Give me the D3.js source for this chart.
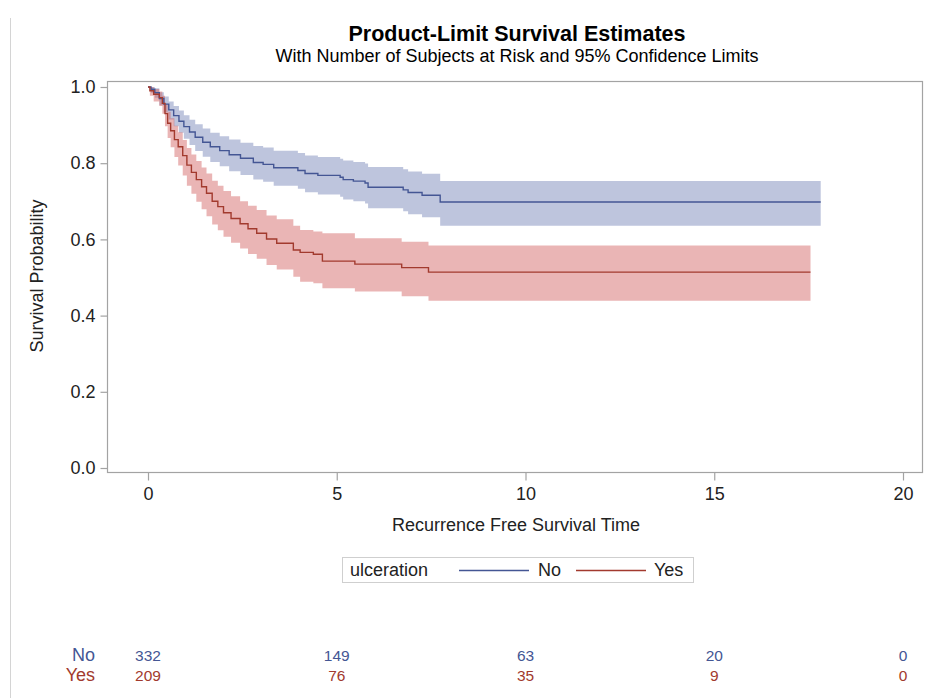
<!DOCTYPE html>
<html>
<head>
<meta charset="utf-8">
<script src="https://cdn.jsdelivr.net/npm/d3@7"></script>
<style>
  html, body { margin: 0; padding: 0; background: #fff; }
  svg { display: block; font-family: "Liberation Sans", Arial, sans-serif; }
</style>
</head>
<body>
<svg id="chart" width="928" height="698"></svg>
<script>
// Kaplan-Meier estimates by ulceration status: step times, survival, 95% limits
const timeNo  = [0, 0.08, 0.18, 0.30, 0.42, 0.55, 0.68, 0.82, 0.95, 1.10, 1.25, 1.45, 1.65, 1.90, 2.15, 2.45, 2.79, 3.05, 3.33, 3.97, 4.16, 4.50, 5.09, 5.17, 5.44, 5.75, 5.83, 6.76, 6.89, 7.26, 7.74, 17.82];
const survNo  = [1.000, 0.994, 0.985, 0.970, 0.955, 0.940, 0.925, 0.910, 0.896, 0.882, 0.868, 0.855, 0.843, 0.833, 0.822, 0.813, 0.802, 0.797, 0.788, 0.781, 0.773, 0.768, 0.763, 0.757, 0.753, 0.748, 0.737, 0.730, 0.723, 0.716, 0.698, 0.698];
const lowerNo = [1.000, 0.985, 0.972, 0.952, 0.933, 0.915, 0.897, 0.880, 0.864, 0.848, 0.832, 0.817, 0.803, 0.792, 0.779, 0.769, 0.757, 0.751, 0.741, 0.733, 0.724, 0.718, 0.712, 0.705, 0.700, 0.694, 0.682, 0.674, 0.666, 0.658, 0.636, 0.636];
const upperNo = [1.000, 1.000, 0.997, 0.986, 0.975, 0.962, 0.950, 0.938, 0.926, 0.914, 0.902, 0.891, 0.880, 0.871, 0.862, 0.854, 0.845, 0.841, 0.833, 0.827, 0.820, 0.816, 0.812, 0.807, 0.803, 0.799, 0.790, 0.784, 0.778, 0.772, 0.753, 0.753];

const timeYes  = [0, 0.05, 0.15, 0.30, 0.38, 0.45, 0.52, 0.60, 0.70, 0.80, 0.92, 1.03, 1.15, 1.28, 1.42, 1.55, 1.70, 1.85, 2.00, 2.20, 2.44, 2.65, 2.88, 3.14, 3.41, 3.85, 4.03, 4.38, 4.62, 5.48, 6.72, 7.43, 17.55];
const survYes  = [1.000, 0.990, 0.981, 0.972, 0.957, 0.930, 0.905, 0.885, 0.862, 0.843, 0.820, 0.795, 0.776, 0.757, 0.738, 0.721, 0.700, 0.686, 0.670, 0.655, 0.641, 0.628, 0.616, 0.601, 0.590, 0.572, 0.566, 0.561, 0.543, 0.535, 0.526, 0.514, 0.514];
const lowerYes = [1.000, 0.977, 0.962, 0.950, 0.930, 0.897, 0.866, 0.842, 0.816, 0.794, 0.768, 0.741, 0.720, 0.699, 0.679, 0.661, 0.639, 0.624, 0.607, 0.591, 0.576, 0.562, 0.549, 0.533, 0.521, 0.502, 0.489, 0.485, 0.472, 0.463, 0.451, 0.439, 0.439];
const upperYes = [1.000, 1.000, 0.995, 0.988, 0.977, 0.955, 0.935, 0.918, 0.898, 0.881, 0.861, 0.840, 0.823, 0.806, 0.789, 0.773, 0.754, 0.741, 0.727, 0.713, 0.700, 0.688, 0.677, 0.663, 0.653, 0.636, 0.625, 0.621, 0.616, 0.603, 0.594, 0.584, 0.584];

// Number of subjects at risk at each tick time
const riskTimes  = [0, 5, 10, 15, 20];
const atRiskNo   = [332, 149, 63, 20, 0];
const atRiskYes  = [209, 76, 35, 9, 0];

const groupNames = ["No", "Yes"];
const xTicks = [0, 5, 10, 15, 20];
const yTicks = [0.0, 0.2, 0.4, 0.6, 0.8, 1.0];

const titleText    = "Product-Limit Survival Estimates";
const subtitleText = "With Number of Subjects at Risk and 95% Confidence Limits";
const xTitle = "Recurrence Free Survival Time";
const yTitle = "Survival Probability";
const legendTitle = "ulceration";

// --- layout / style ---
const frame = { left: 107.5, top: 81.5, right: 922.5, bottom: 472.5 };
const lineColor = { No: "#445694", Yes: "#A23A2E" };
const fillColor = { No: "#6F7EB3", Yes: "#D05B5B" };
const axisGray = "#a3a3a3";
const textColor = "#222";

const svg = d3.select("#chart");

const x = d3.scaleLinear().domain([0, 20]).range([148, 903]);
const y = d3.scaleLinear().domain([0, 1]).range([468, 87]);

// outer left rule of the graph region
svg.append("line")
  .attr("x1", 10.5).attr("x2", 10.5).attr("y1", 18).attr("y2", 698)
  .attr("stroke", "#d4d4d4").attr("stroke-width", 1);

// titles
svg.append("text")
  .attr("x", 517).attr("y", 41)
  .attr("text-anchor", "middle")
  .attr("font-size", 21.5).attr("font-weight", "bold").attr("fill", "#000")
  .text(titleText);
svg.append("text")
  .attr("x", 517).attr("y", 62)
  .attr("text-anchor", "middle")
  .attr("font-size", 18).attr("fill", "#000")
  .text(subtitleText);

// build series records
const series = [
  { name: "No",  t: timeNo,  s: survNo,  lo: lowerNo,  hi: upperNo },
  { name: "Yes", t: timeYes, s: survYes, lo: lowerYes, hi: upperYes }
].map(g => ({
  name: g.name,
  pts: g.t.map((t, i) => ({ t, s: g.s[i], lo: g.lo[i], hi: g.hi[i] }))
}));

const band = d3.area()
  .curve(d3.curveStepAfter)
  .x(d => x(d.t))
  .y0(d => y(d.lo))
  .y1(d => y(d.hi));

const curve = d3.line()
  .curve(d3.curveStepAfter)
  .x(d => x(d.t))
  .y(d => y(d.s));

// confidence bands
svg.append("g").selectAll("path")
  .data(series)
  .join("path")
  .attr("d", d => band(d.pts))
  .attr("fill", d => fillColor[d.name])
  .attr("fill-opacity", 0.45)
  .attr("stroke", "none");

// survival curves
svg.append("g").selectAll("path")
  .data(series)
  .join("path")
  .attr("d", d => curve(d.pts))
  .attr("fill", "none")
  .attr("stroke", d => lineColor[d.name])
  .attr("stroke-width", 1.4);

// plot frame
svg.append("rect")
  .attr("x", frame.left).attr("y", frame.top)
  .attr("width", frame.right - frame.left).attr("height", frame.bottom - frame.top)
  .attr("fill", "none").attr("stroke", axisGray).attr("stroke-width", 1.2);

// y axis
const yAxis = svg.append("g")
  .attr("transform", `translate(${frame.left},0)`)
  .call(d3.axisLeft(y).tickValues(yTicks).tickFormat(d3.format(".1f")).tickSize(7).tickPadding(5));
yAxis.select(".domain").remove();
yAxis.selectAll(".tick line").attr("stroke", axisGray).attr("stroke-width", 1.2);
yAxis.selectAll(".tick text")
  .attr("font-size", 18).attr("font-family", "Liberation Sans, Arial, sans-serif")
  .attr("fill", textColor);

// x axis
const xAxis = svg.append("g")
  .attr("transform", `translate(0,${frame.bottom})`)
  .call(d3.axisBottom(x).tickValues(xTicks).tickFormat(d3.format("d")).tickSize(8).tickPadding(7));
xAxis.select(".domain").remove();
xAxis.selectAll(".tick line").attr("stroke", axisGray).attr("stroke-width", 1.2);
xAxis.selectAll(".tick text")
  .attr("font-size", 18).attr("font-family", "Liberation Sans, Arial, sans-serif")
  .attr("fill", textColor);

// axis titles
svg.append("text")
  .attr("x", 516).attr("y", 531)
  .attr("text-anchor", "middle")
  .attr("font-size", 18).attr("fill", textColor)
  .text(xTitle);
svg.append("text")
  .attr("transform", "translate(43,276) rotate(-90)")
  .attr("text-anchor", "middle")
  .attr("font-size", 18).attr("fill", textColor)
  .text(yTitle);

// legend
const legend = svg.append("g");
legend.append("rect")
  .attr("x", 342.5).attr("y", 557.5).attr("width", 351).attr("height", 25)
  .attr("fill", "#fff").attr("stroke", "#cfcfcf").attr("stroke-width", 1);
legend.append("text")
  .attr("x", 350).attr("y", 576)
  .attr("font-size", 18).attr("fill", textColor)
  .text(legendTitle);
const legendItems = [
  { name: groupNames[0], lx: 459, tx: 538 },
  { name: groupNames[1], lx: 576, tx: 654 }
];
legend.selectAll("line.key")
  .data(legendItems)
  .join("line")
  .attr("class", "key")
  .attr("x1", d => d.lx).attr("x2", d => d.lx + 70)
  .attr("y1", 570.5).attr("y2", 570.5)
  .attr("stroke", d => lineColor[d.name]).attr("stroke-width", 1.6);
legend.selectAll("text.key")
  .data(legendItems)
  .join("text")
  .attr("class", "key")
  .attr("x", d => d.tx).attr("y", 576)
  .attr("font-size", 18).attr("fill", textColor)
  .text(d => d.name);

// at-risk table
const riskRows = [
  { name: groupNames[0], counts: atRiskNo,  yPos: 661 },
  { name: groupNames[1], counts: atRiskYes, yPos: 681 }
];
const rowG = svg.append("g").selectAll("g")
  .data(riskRows)
  .join("g");
rowG.append("text")
  .attr("x", 95).attr("y", d => d.yPos)
  .attr("text-anchor", "end")
  .attr("font-size", 18)
  .attr("fill", d => lineColor[d.name])
  .text(d => d.name);
rowG.selectAll("text.count")
  .data(d => d.counts.map((c, i) => ({ c, t: riskTimes[i], name: d.name, yPos: d.yPos })))
  .join("text")
  .attr("class", "count")
  .attr("x", d => x(d.t))
  .attr("y", d => d.yPos)
  .attr("text-anchor", "middle")
  .attr("font-size", 15.5)
  .attr("fill", d => lineColor[d.name])
  .text(d => d.c);
</script>
</body>
</html>
